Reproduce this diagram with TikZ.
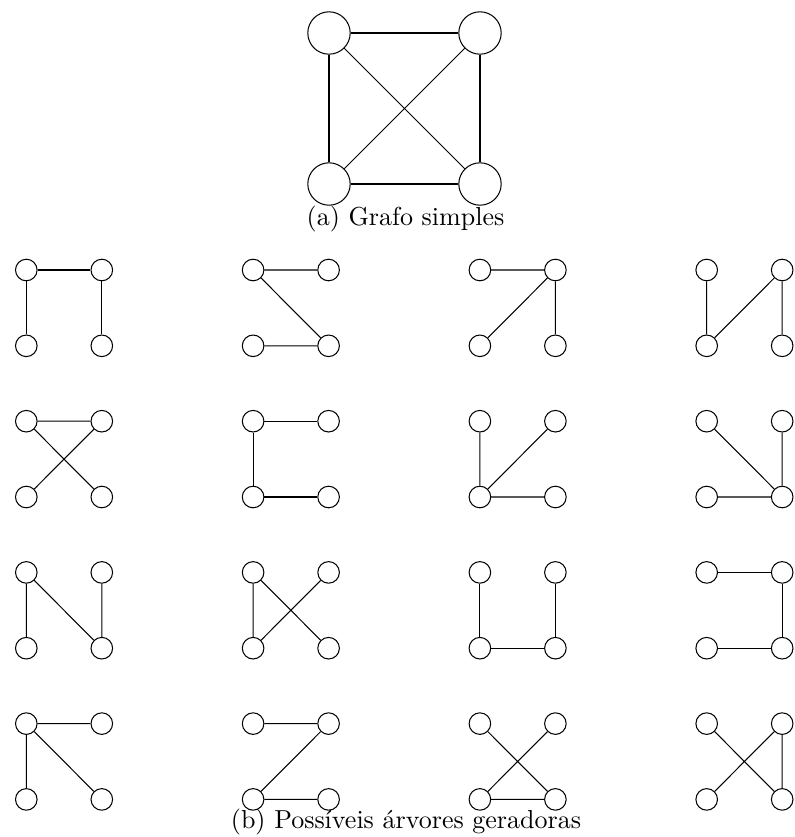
\documentclass[tikz,border=0pt]{standalone}
\usepackage{tikz}
\tikzset{
  bigvert/.style={circle, draw, minimum size=16.3pt, inner sep=0pt},
  smallvert/.style={circle, draw, minimum size=8.3pt, inner sep=0pt},
  caption/.style={inner sep=0pt}
}
\begin{document}
\begin{tikzpicture}[x=0.3846pt, y=-0.3846pt]
  \useasboundingbox (0,0) rectangle (795,837);

  % (a) Simple graph
  \node[bigvert] (ga) at (329,33) {};
  \node[bigvert] (gb) at (480,33) {};
  \node[bigvert] (gc) at (329,184) {};
  \node[bigvert] (gd) at (480,184) {};
  \draw (ga) -- (gb) (gc) -- (gd) (ga) -- (gc) (gb) -- (gd);
  \draw (ga) -- (gd) (gb) -- (gc);
  \node[caption] (capa) at (405.5,219) {(a) Grafo simples};

  % (b) Spanning trees: a = top left, b = top right, c = bottom left, d = bottom right
  \foreach \r in {0,...,3} {
    \foreach \c in {0,...,3} {
      \pgfmathtruncatemacro{\k}{4*\r+\c+1}
      \node[smallvert] (t\k a) at ({26.3+226.8*\c},{270+151.2*\r}) {};
      \node[smallvert] (t\k b) at ({101.8+226.8*\c},{270+151.2*\r}) {};
      \node[smallvert] (t\k c) at ({26.3+226.8*\c},{345.8+151.2*\r}) {};
      \node[smallvert] (t\k d) at ({101.8+226.8*\c},{345.8+151.2*\r}) {};
    }
  }

  % Row 1
  \draw (t1a) -- (t1b) (t1a) -- (t1c) (t1b) -- (t1d);
  \draw (t2a) -- (t2b) (t2a) -- (t2d) (t2c) -- (t2d);
  \draw (t3a) -- (t3b) (t3b) -- (t3c) (t3b) -- (t3d);
  \draw (t4a) -- (t4c) (t4c) -- (t4b) (t4b) -- (t4d);
  % Row 2
  \draw (t5a) -- (t5b) (t5a) -- (t5d) (t5b) -- (t5c);
  \draw (t6a) -- (t6b) (t6a) -- (t6c) (t6c) -- (t6d);
  \draw (t7a) -- (t7c) (t7c) -- (t7b) (t7c) -- (t7d);
  \draw (t8a) -- (t8d) (t8b) -- (t8d) (t8c) -- (t8d);
  % Row 3
  \draw (t9a) -- (t9c) (t9a) -- (t9d) (t9b) -- (t9d);
  \draw (t10a) -- (t10c) (t10a) -- (t10d) (t10b) -- (t10c);
  \draw (t11a) -- (t11c) (t11c) -- (t11d) (t11b) -- (t11d);
  \draw (t12a) -- (t12b) (t12b) -- (t12d) (t12c) -- (t12d);
  % Row 4
  \draw (t13a) -- (t13b) (t13a) -- (t13c) (t13a) -- (t13d);
  \draw (t14a) -- (t14b) (t14b) -- (t14c) (t14c) -- (t14d);
  \draw (t15a) -- (t15d) (t15b) -- (t15c) (t15c) -- (t15d);
  \draw (t16a) -- (t16d) (t16b) -- (t16c) (t16b) -- (t16d);

  \node[caption] (capb) at (406,822) {(b) Possíveis árvores geradoras};
\end{tikzpicture}
\end{document}
